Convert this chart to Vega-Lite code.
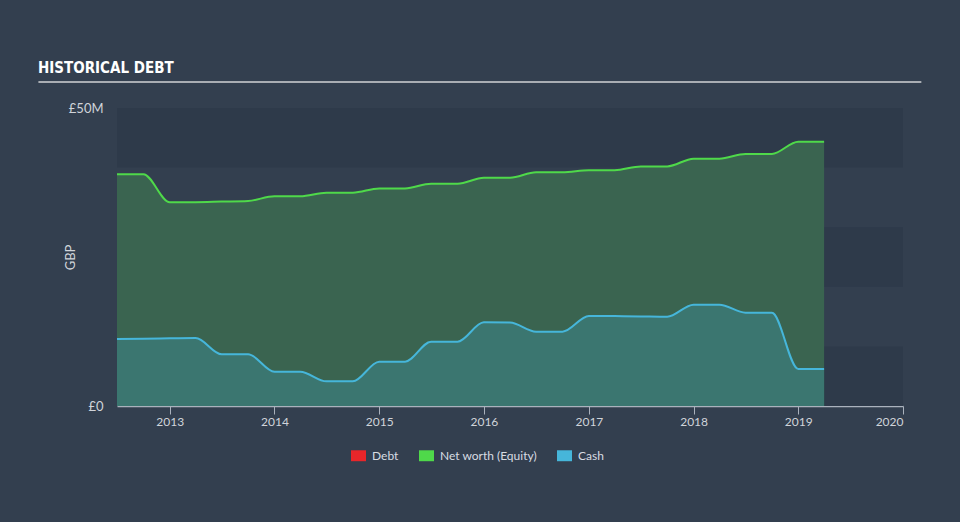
{
  "$schema": "https://vega.github.io/schema/vega-lite/v6.json",
  "width": 786,
  "height": 298,
  "autosize": {"type": "none"},
  "padding": {"left": 117, "top": 108, "right": 57, "bottom": 116},
  "background": "#333f4f",
  "config": {
    "view": {"stroke": null},
    "font": "Lato",
    "axisX": {
      "domainColor": "#aab2bd", "domainWidth": 1.5, "tickColor": "#aab2bd", "tickSize": 8, "tickWidth": 1,
      "labelColor": "#d0d4da", "labelFontSize": 12, "labelPadding": 2, "grid": false
    },
    "axisY": {
      "domain": false, "ticks": false, "grid": false, "labelColor": "#d0d4da", "labelFontSize": 13, "labelPadding": 14,
      "titleColor": "#d0d4da", "titleFontSize": 13, "titleFontWeight": "normal", "titlePadding": -9
    }
  },
  "title": {
    "text": "HISTORICAL DEBT", "anchor": "start", "frame": "group", "dx": -79, "offset": 5,
    "font": "DejaVu Sans Condensed", "fontSize": 15, "fontWeight": "bold", "color": "#ffffff"
  },
  "datasets": {
    "bands": [
      {"lo": 0, "hi": 10000000},
      {"lo": 20000000, "hi": 30000000},
      {"lo": 40000000, "hi": 50000000}
    ],
    "fin": [
      {"date": "2012-07-01", "series": "Net worth (Equity)", "value": 38900000},
      {"date": "2012-10-01", "series": "Net worth (Equity)", "value": 38900000},
      {"date": "2013-01-01", "series": "Net worth (Equity)", "value": 34200000},
      {"date": "2013-04-01", "series": "Net worth (Equity)", "value": 34200000},
      {"date": "2013-07-01", "series": "Net worth (Equity)", "value": 34300000},
      {"date": "2013-10-01", "series": "Net worth (Equity)", "value": 34400000},
      {"date": "2014-01-01", "series": "Net worth (Equity)", "value": 35200000},
      {"date": "2014-04-01", "series": "Net worth (Equity)", "value": 35200000},
      {"date": "2014-07-01", "series": "Net worth (Equity)", "value": 35800000},
      {"date": "2014-10-01", "series": "Net worth (Equity)", "value": 35800000},
      {"date": "2015-01-01", "series": "Net worth (Equity)", "value": 36500000},
      {"date": "2015-04-01", "series": "Net worth (Equity)", "value": 36500000},
      {"date": "2015-07-01", "series": "Net worth (Equity)", "value": 37300000},
      {"date": "2015-10-01", "series": "Net worth (Equity)", "value": 37300000},
      {"date": "2016-01-01", "series": "Net worth (Equity)", "value": 38300000},
      {"date": "2016-04-01", "series": "Net worth (Equity)", "value": 38300000},
      {"date": "2016-07-01", "series": "Net worth (Equity)", "value": 39200000},
      {"date": "2016-10-01", "series": "Net worth (Equity)", "value": 39200000},
      {"date": "2017-01-01", "series": "Net worth (Equity)", "value": 39550000},
      {"date": "2017-04-01", "series": "Net worth (Equity)", "value": 39550000},
      {"date": "2017-07-01", "series": "Net worth (Equity)", "value": 40200000},
      {"date": "2017-10-01", "series": "Net worth (Equity)", "value": 40200000},
      {"date": "2018-01-01", "series": "Net worth (Equity)", "value": 41500000},
      {"date": "2018-04-01", "series": "Net worth (Equity)", "value": 41500000},
      {"date": "2018-07-01", "series": "Net worth (Equity)", "value": 42300000},
      {"date": "2018-10-01", "series": "Net worth (Equity)", "value": 42300000},
      {"date": "2019-01-01", "series": "Net worth (Equity)", "value": 44350000},
      {"date": "2019-04-01", "series": "Net worth (Equity)", "value": 44350000},
      {"date": "2012-07-01", "series": "Cash", "value": 11240000},
      {"date": "2012-10-01", "series": "Cash", "value": 11300000},
      {"date": "2013-01-01", "series": "Cash", "value": 11350000},
      {"date": "2013-04-01", "series": "Cash", "value": 11400000},
      {"date": "2013-07-01", "series": "Cash", "value": 8670000},
      {"date": "2013-10-01", "series": "Cash", "value": 8670000},
      {"date": "2014-01-01", "series": "Cash", "value": 5750000},
      {"date": "2014-04-01", "series": "Cash", "value": 5750000},
      {"date": "2014-07-01", "series": "Cash", "value": 4140000},
      {"date": "2014-10-01", "series": "Cash", "value": 4140000},
      {"date": "2015-01-01", "series": "Cash", "value": 7430000},
      {"date": "2015-04-01", "series": "Cash", "value": 7430000},
      {"date": "2015-07-01", "series": "Cash", "value": 10790000},
      {"date": "2015-10-01", "series": "Cash", "value": 10790000},
      {"date": "2016-01-01", "series": "Cash", "value": 14040000},
      {"date": "2016-04-01", "series": "Cash", "value": 14000000},
      {"date": "2016-07-01", "series": "Cash", "value": 12470000},
      {"date": "2016-10-01", "series": "Cash", "value": 12470000},
      {"date": "2017-01-01", "series": "Cash", "value": 15100000},
      {"date": "2017-04-01", "series": "Cash", "value": 15080000},
      {"date": "2017-07-01", "series": "Cash", "value": 15030000},
      {"date": "2017-10-01", "series": "Cash", "value": 14980000},
      {"date": "2018-01-01", "series": "Cash", "value": 17000000},
      {"date": "2018-04-01", "series": "Cash", "value": 17000000},
      {"date": "2018-07-01", "series": "Cash", "value": 15650000},
      {"date": "2018-10-01", "series": "Cash", "value": 15650000},
      {"date": "2019-01-01", "series": "Cash", "value": 6210000},
      {"date": "2019-04-01", "series": "Cash", "value": 6210000}
    ]
  },
  "layer": [
    {
      "data": {"name": "bands"},
      "mark": {"type": "rect", "color": "#2e3a4a"},
      "encoding": {
        "y": {"field": "lo", "type": "quantitative", "title": "GBP", "scale": {"domain": [0, 50000000]},
              "axis": {"values": [0, 50000000], "labelExpr": "datum.value == 0 ? '£0' : '£' + (datum.value / 1000000) + 'M'"}},
        "y2": {"field": "hi"}
      }
    },
    {
      "data": {"name": "fin"},
      "transform": [{"filter": "datum.series == 'Net worth (Equity)'"}],
      "mark": {"type": "area", "interpolate": "monotone", "color": "#3a6450"},
      "encoding": {
        "x": {"field": "date", "type": "temporal", "title": null,
              "scale": {"domain": [{"year": 2012, "month": 7, "date": 1}, {"year": 2020, "month": 1, "date": 1}]},
              "axis": {"values": [{"year": 2013}, {"year": 2014}, {"year": 2015}, {"year": 2016}, {"year": 2017}, {"year": 2018}, {"year": 2019}, {"year": 2020}], "format": "%Y"}},
        "y": {"field": "value", "type": "quantitative", "title": "GBP"}
      }
    },
    {
      "data": {"name": "fin"},
      "transform": [{"filter": "datum.series == 'Cash'"}],
      "mark": {"type": "area", "interpolate": "monotone", "color": "#3b7670"},
      "encoding": {
        "x": {"field": "date", "type": "temporal", "title": null},
        "y": {"field": "value", "type": "quantitative", "title": "GBP"}
      }
    },
    {
      "data": {"name": "fin"},
      "mark": {"type": "line", "interpolate": "monotone", "strokeWidth": 2},
      "encoding": {
        "x": {"field": "date", "type": "temporal", "title": null},
        "y": {"field": "value", "type": "quantitative", "title": "GBP"},
        "color": {
          "field": "series", "type": "nominal",
          "scale": {"domain": ["Debt", "Net worth (Equity)", "Cash"], "range": ["#e8262a", "#4fd94a", "#46b6da"]},
          "legend": {
            "orient": "none", "legendX": 234, "legendY": 340, "direction": "horizontal", "title": null,
            "symbolType": "M-1,-0.73H1V0.73H-1Z", "symbolSize": 225, "symbolStrokeWidth": 0,
            "labelColor": "#d8dce2", "labelFontSize": 12, "labelOffset": 6, "columnPadding": 20,
            "encode": {"symbols": {"update": {"fill": {"scale": "color", "field": "value"}, "opacity": {"value": 1}, "strokeWidth": {"value": 0}}}}
          }
        }
      }
    },
    {
      "data": {"values": [{}]},
      "mark": {"type": "rule", "color": "#a9adb3", "strokeWidth": 2},
      "encoding": {
        "x": {"datum": {"year": 2011, "month": 10, "date": 1}, "type": "temporal", "title": null},
        "x2": {"datum": {"year": 2020, "month": 3, "date": 5}},
        "y": {"datum": 54360000, "type": "quantitative", "title": "GBP"}
      }
    }
  ]
}
